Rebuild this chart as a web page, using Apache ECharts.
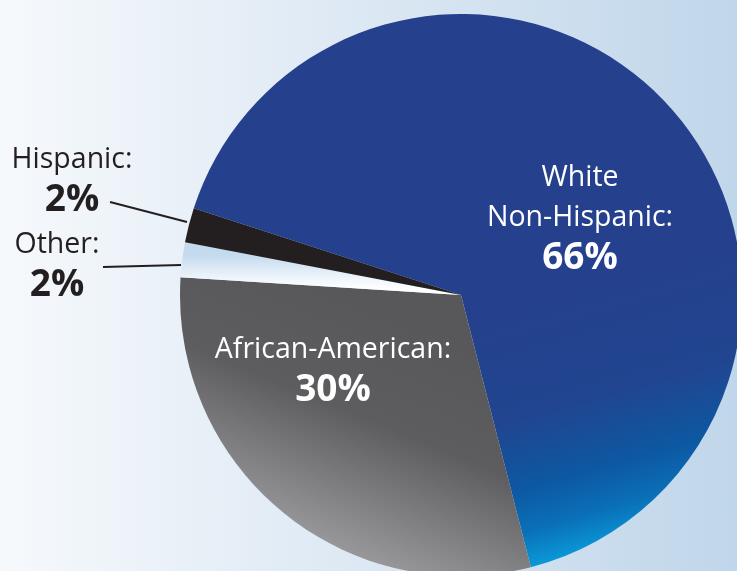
<!DOCTYPE html>
<html>
<head>
<meta charset="utf-8">
<script src="https://cdn.jsdelivr.net/npm/echarts@6/dist/echarts.min.js"></script>
<style>
    html, body { margin: 0; padding: 0; }
    #chart {
        width: 737px;
        height: 571px;
        background: linear-gradient(90deg, #f6f9fc 0%, #e4edf6 35%, #c0d6ea 100%);
    }
</style>
</head>
<body>
<div id="chart"></div>
<script>
    // groups clockwise from the Hispanic/White boundary
    let groupNames = ['White\nNon-Hispanic:', 'African-American:', 'Other:', 'Hispanic:'];
    let groupShares = [66, 30, 2, 2];

    let center = [461, 295];
    let labelSpots = [
        { x: 580, y: 218 },
        { x: 333, y: 370 },
        { x: 57, y: 265 },
        { x: 72, y: 180 }
    ];
    let leaderLines = [
        null,
        null,
        [[103, 267], [181, 265]],
        [[110, 202], [187, 222]]
    ];

    let fills = [
        {
            type: 'linear', global: true,
            x: 470, y: 300, x2: 545, y2: 570,
            colorStops: [
                { offset: 0, color: '#25408d' },
                { offset: 0.45, color: '#214590' },
                { offset: 0.7, color: '#0d58a2' },
                { offset: 0.85, color: '#0a70b8' },
                { offset: 1, color: '#0aa0dd' }
            ]
        },
        {
            type: 'linear', global: true,
            x: 430, y: 330, x2: 330, y2: 575,
            colorStops: [
                { offset: 0, color: '#58585a' },
                { offset: 0.4, color: '#5d5d5f' },
                { offset: 1, color: '#a4a4a8' }
            ]
        },
        {
            type: 'linear', global: true,
            x: 300, y: 255, x2: 300, y2: 290,
            colorStops: [
                { offset: 0, color: '#c4daee' },
                { offset: 0.75, color: '#f4f9fd' },
                { offset: 1, color: '#ffffff' }
            ]
        },
        '#231f20'
    ];

    function buildLabel(i) {
        let outside = i >= 2;
        let ink = outside ? '#231f20' : '#ffffff';
        let lines = groupNames[i].split('\n').map(t => `{n|${t}}`);
        lines.push(`{v|${groupShares[i]}%}`);
        return {
            formatter: lines.join('\n'),
            color: ink,
            rich: {
                n: {
                    fontFamily: 'Open Sans',
                    fontSize: 28.5,
                    lineHeight: 40,
                    color: ink
                },
                v: {
                    fontFamily: 'Open Sans',
                    fontWeight: 'bold',
                    fontSize: 37,
                    lineHeight: 40,
                    color: ink
                }
            }
        };
    }

    let pieData = groupShares.map((value, i) => ({
        name: groupNames[i],
        value: value,
        itemStyle: { color: fills[i] },
        label: buildLabel(i),
        labelLine: {
            show: i >= 2,
            lineStyle: { color: '#231f20', width: 2 }
        }
    }));

    let chart = echarts.init(document.getElementById('chart'));
    chart.setOption({
        animation: false,
        series: [{
            type: 'pie',
            center: center,
            radius: 281,
            startAngle: 162,
            clockwise: true,
            avoidLabelOverlap: false,
            silent: true,
            itemStyle: { borderWidth: 0 },
            label: { show: true, position: 'outside', align: 'center' },
            labelLayout: function(p) {
                let spot = labelSpots[p.dataIndex];
                let layout = {
                    x: spot.x,
                    y: spot.y,
                    align: 'center',
                    verticalAlign: 'middle'
                };
                if (leaderLines[p.dataIndex]) {
                    layout.labelLinePoints = [
                        leaderLines[p.dataIndex][1],
                        leaderLines[p.dataIndex][1],
                        leaderLines[p.dataIndex][0]
                    ];
                }
                return layout;
            },
            data: pieData
        }]
    });
</script>
</body>
</html>
